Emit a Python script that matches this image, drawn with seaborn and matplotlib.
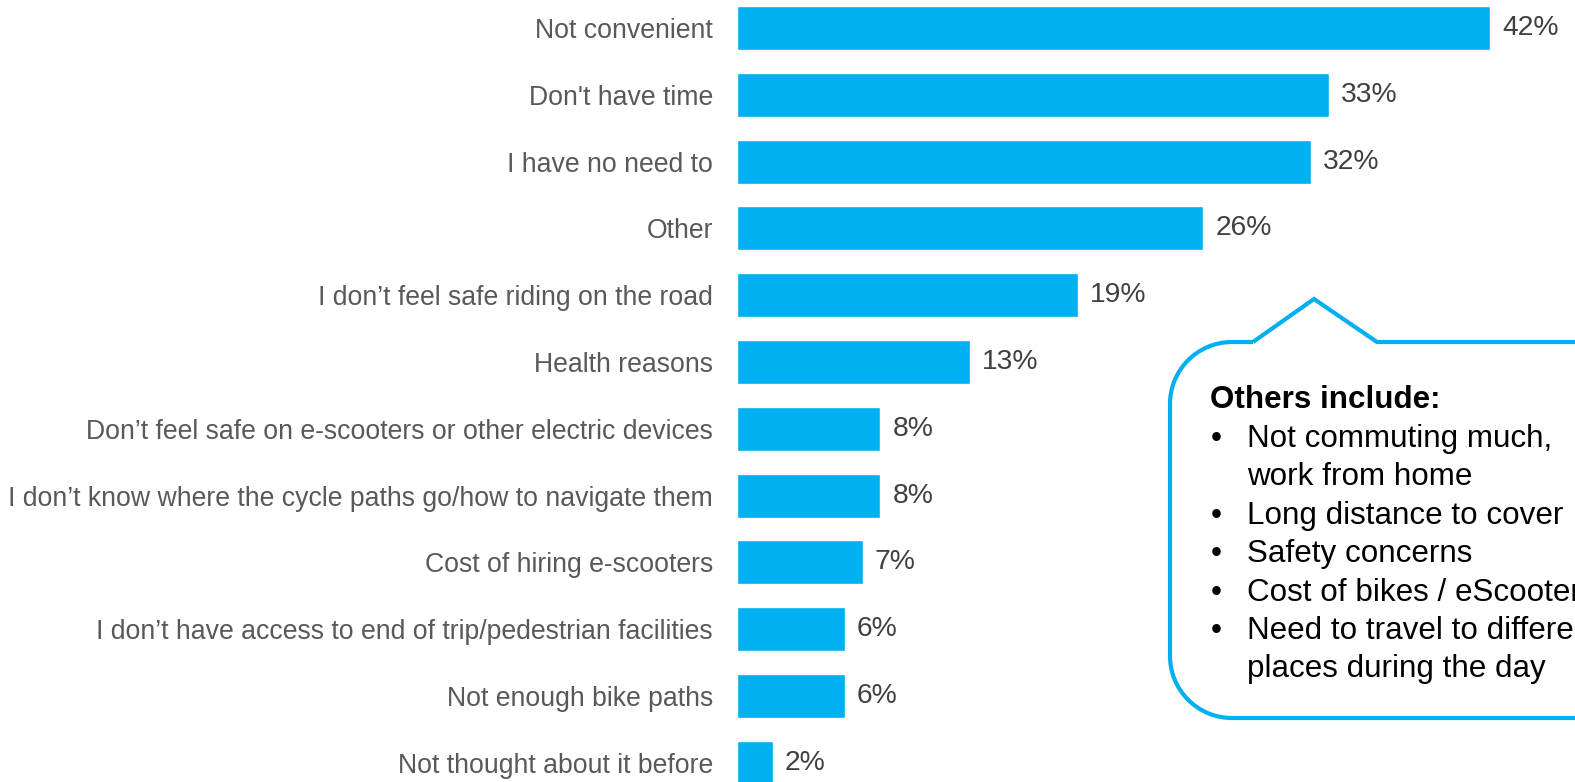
import matplotlib
matplotlib.use("Agg")
import matplotlib.pyplot as plt
import seaborn as sns
import pandas as pd
from matplotlib.path import Path
from matplotlib.patches import PathPatch

categories = [
    "Not convenient",
    "Don't have time",
    "I have no need to",
    "Other",
    "I don\u2019t feel safe riding on the road",
    "Health reasons",
    "Don\u2019t feel safe on e-scooters or other electric devices",
    "I don\u2019t know where the cycle paths go/how to navigate them",
    "Cost of hiring e-scooters",
    "I don\u2019t have access to end of trip/pedestrian facilities",
    "Not enough bike paths",
    "Not thought about it before",
]
values = [42, 33, 32, 26, 19, 13, 8, 8, 7, 6, 6, 2]

callout_title = "Others include:"
callout_items = [
    ["Not commuting much,", "work from home"],
    ["Long distance to cover"],
    ["Safety concerns"],
    ["Cost of bikes / eScooters"],
    ["Need to travel to different", "places during the day"],
]

sns.set_theme(style="white")
plt.rcParams["font.family"] = ["Liberation Sans", "DejaVu Sans"]

W, H = 1575, 782
fig = plt.figure(figsize=(W / 100, H / 100), dpi=100)
ax = fig.add_axes([737 / W, 0, (W - 737) / W, 1])

df = pd.DataFrame({"cat": categories, "val": values})
BLUE = "#00B0F0"
sns.barplot(data=df, y="cat", x="val", orient="h", color=BLUE, width=0.66,
            saturation=1, ax=ax)

px_per_pct = (1490 - 737) / 42
ax.set_xlim(0, (W - 737) / px_per_pct)
pitch = 66.8
ax.set_ylim((H - 28) / pitch, -28 / pitch)
for s in ax.spines.values():
    s.set_visible(False)
ax.set_xticks([])
ax.set_xlabel("")
ax.set_ylabel("")
ax.tick_params(axis="y", length=0, pad=17.3, labelsize=19.2, labelcolor="#595959")

for i, v in enumerate(values):
    ax.annotate(f"{v}%", xy=(v, i), xytext=(12, 0), textcoords="offset pixels",
                va="center", ha="left", fontsize=20.3, color="#404040")

# callout overlay in pixel coordinates
ov = fig.add_axes([0, 0, 1, 1], facecolor="none")
ov.set_xlim(0, W)
ov.set_ylim(H, 0)
ov.axis("off")

L, T, B, R = 1170, 342, 718, 1700
r = 62
k = 0.5523 * r
verts = [
    (1253, T), (1314, 299), (1377, T), (R, T), (R, B),
    (L + r, B),
    (L + r - k, B), (L, B - r + k), (L, B - r),
    (L, T + r),
    (L, T + r - k), (L + r - k, T), (L + r, T),
    (1253, T),
]
codes = [Path.MOVETO, Path.LINETO, Path.LINETO, Path.LINETO, Path.LINETO,
         Path.LINETO,
         Path.CURVE4, Path.CURVE4, Path.CURVE4,
         Path.LINETO,
         Path.CURVE4, Path.CURVE4, Path.CURVE4,
         Path.LINETO]
ov.add_patch(PathPatch(Path(verts, codes), facecolor="white", edgecolor=BLUE,
                       lw=3.0, joinstyle="miter", clip_on=False))

fs = 22.6
ov.text(1210, 408, callout_title, fontsize=fs, fontweight="bold", color="black",
        va="baseline", ha="left")
y = 447
step = 38.4
for item in callout_items:
    ov.text(1211, y, "\u2022", fontsize=fs, color="black", va="baseline", ha="left")
    for line in item:
        ov.text(1247, y, line, fontsize=fs, color="black", va="baseline", ha="left")
        y += step

fig.savefig("out.png", dpi=100)
